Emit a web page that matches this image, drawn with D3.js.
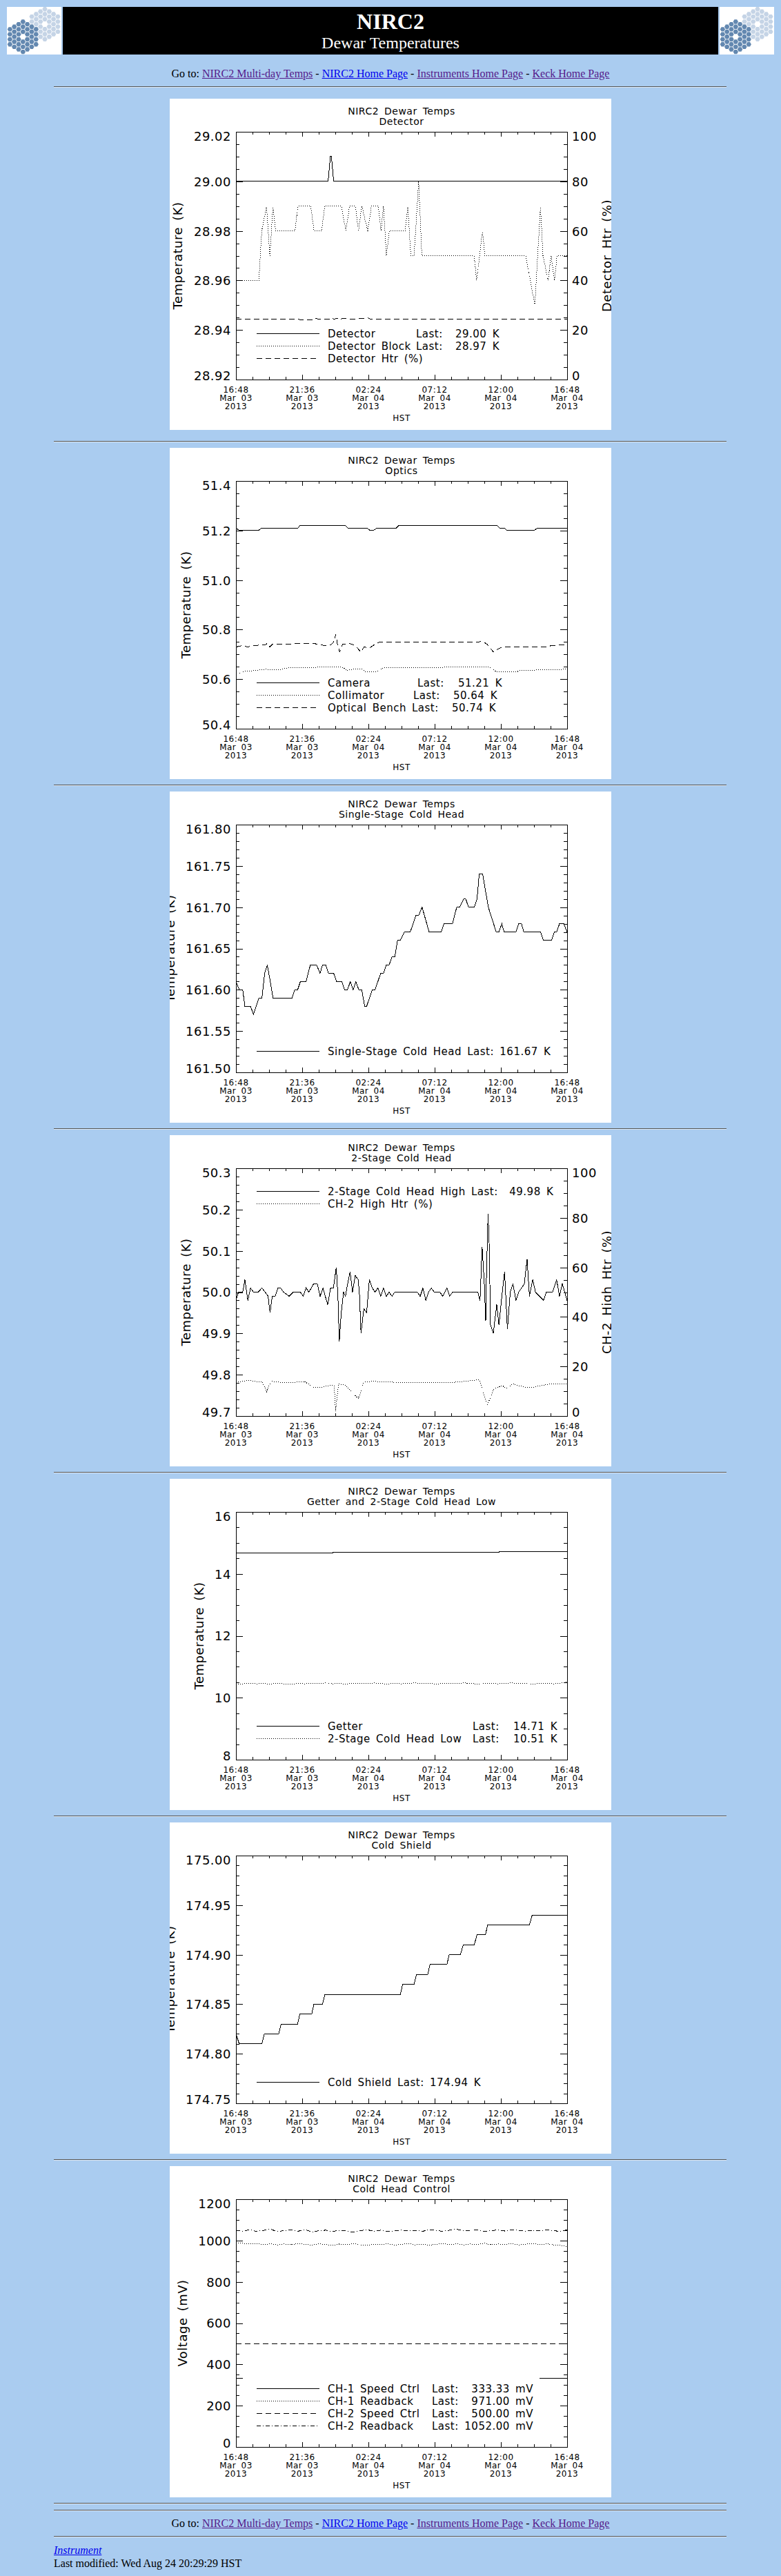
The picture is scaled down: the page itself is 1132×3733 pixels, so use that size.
<!DOCTYPE html>
<html>
<head>
<meta charset="utf-8">
<title>NIRC2 Dewar Temperatures</title>
<script src="https://cdn.jsdelivr.net/npm/d3@7"></script>
<style>
  body { margin: 0; background: #aaccf0; }
  #page { position: relative; width: 1132px; height: 3733px; overflow: hidden;
          font-family: "Liberation Serif", "Times New Roman", serif; font-size: 16px; }
  .panel, .rule, .line { position: absolute; }
  .panel { left: 246px; }
  .rule { left: 78px; width: 975px; height: 0; border-top: 1px solid #555; border-bottom: 1px solid #dde8f4; }
  .line { left: 0; width: 1132px; line-height: 18px; white-space: nowrap; }
  .center { text-align: center; }
  .foot { left: 78px; }
  a { color: #0000ee; }
  a.seen { color: #551a8b; }
  svg text { font-family: "DejaVu Sans", sans-serif; letter-spacing: 0.5px; word-spacing: 3px; white-space: pre; }
  svg text.hdr { font-family: "Liberation Serif", "Times New Roman", serif; letter-spacing: 0; word-spacing: 0; }
</style>
</head>
<body>
<div id="page">
  <svg id="header" width="1132" height="90" style="position:absolute;left:0;top:0"></svg>
  <div class="line center" style="top:98px">Go to: <a class="seen" href="#">NIRC2 Multi-day Temps</a> - <a href="#">NIRC2 Home Page</a> - <a class="seen" href="#">Instruments Home Page</a> - <a class="seen" href="#">Keck Home Page</a></div>
  <div class="line center" style="top:3648px">Go to: <a class="seen" href="#">NIRC2 Multi-day Temps</a> - <a href="#">NIRC2 Home Page</a> - <a class="seen" href="#">Instruments Home Page</a> - <a class="seen" href="#">Keck Home Page</a></div>
  <div class="line foot" style="top:3687px"><a href="#"><i>Instrument</i></a></div>
  <div class="line foot" style="top:3706px">Last modified: Wed Aug 24 20:29:29 HST</div>
</div>
<script>
// x axis: 24 hours starting 16:48 HST Mar 03 2013 (values are hours since start)
const xTickHours = [0, 4.8, 9.6, 14.4, 19.2, 24];
const xTickTimes = ["16:48", "21:36", "02:24", "07:12", "12:00", "16:48"];
const xTickDates = ["Mar 03", "Mar 03", "Mar 04", "Mar 04", "Mar 04", "Mar 04"];
const xTickYear = "2013";

// Detector
const detector = [[0,29.00],[6.68,29.00],[6.84,29.01],[6.92,29.01],[7.08,29.00],[24,29.00]];
const detectorBlock = [[0,28.96],[1.66,28.96],[1.87,28.98],[2.22,28.99],[2.46,28.97],[2.68,28.99],[2.87,28.98],
  [4.27,28.98],[4.50,28.99],[5.42,28.99],[5.66,28.98],[6.20,28.98],[6.44,28.99],[7.64,28.99],[7.97,28.98],
  [8.23,28.99],[8.66,28.99],[8.88,28.98],[9.12,28.99],[9.55,28.98],[9.82,28.99],[10.32,28.99],[10.51,28.98],
  [10.69,28.99],[10.90,28.97],[11.12,28.98],[12.26,28.98],[12.45,28.99],[12.67,28.97],[12.91,28.97],
  [13.24,29.00],[13.47,28.97],[17.26,28.97],[17.44,28.96],[17.87,28.98],[18.04,28.97],[21.00,28.97],
  [21.33,28.96],[21.66,28.95],[22.07,28.99],[22.25,28.97],[22.62,28.96],[22.84,28.97],[23.08,28.96],
  [23.27,28.97],[24,28.97]];
const detectorHtr = [[0,24.3],[2.30,24.3],[2.46,24.9],[2.62,24.3],[5.60,24.2],[5.80,24.8],[6.00,24.3],
  [6.80,24.3],[6.95,24.8],[7.10,24.3],[7.30,24.7],[7.50,24.3],[7.90,24.8],[8.10,24.3],[9.60,24.8],
  [9.80,24.3],[24,24.3]];

// Optics
const camera = [[0,51.21],[0.24,51.20],[1.63,51.20],[1.85,51.21],[4.50,51.21],[4.62,51.22],[7.94,51.22],
  [8.12,51.21],[9.49,51.21],[9.73,51.20],[9.95,51.20],[10.23,51.21],[11.62,51.21],[11.80,51.22],
  [18.92,51.22],[19.11,51.21],[19.44,51.21],[19.66,51.20],[21.61,51.20],[21.85,51.21],[24,51.21]];
const collimator = [[0,50.615],[0.43,50.63],[1.35,50.635],[2.18,50.64],[3.00,50.637],[3.75,50.645],
  [7.45,50.65],[7.82,50.645],[8.05,50.635],[8.47,50.64],[9.12,50.64],[9.40,50.63],[10.23,50.63],
  [10.60,50.645],[18.37,50.65],[18.74,50.635],[18.92,50.63],[20.40,50.63],[20.50,50.635],[24,50.64]];
const opticalBench = [[0,50.73],[0.42,50.735],[0.89,50.73],[1.17,50.735],[2.20,50.74],[2.25,50.745],
  [2.44,50.73],[2.63,50.74],[4.12,50.74],[4.31,50.745],[5.60,50.745],[5.97,50.74],[6.53,50.735],
  [6.90,50.74],[7.08,50.75],[7.23,50.78],[7.36,50.74],[7.51,50.71],[7.73,50.74],[8.20,50.745],
  [8.66,50.735],[9.04,50.71],[9.30,50.73],[9.67,50.725],[10.05,50.74],[10.42,50.75],[17.63,50.75],
  [17.82,50.755],[18.22,50.74],[18.65,50.71],[18.93,50.72],[19.30,50.73],[22.62,50.73],[22.80,50.735],
  [24,50.74]];

// Single-Stage Cold Head
const singleStage = [[0,161.61],[0.24,161.60],[0.49,161.60],[0.65,161.58],[1.06,161.58],[1.27,161.57],
  [1.67,161.59],[1.88,161.59],[2.08,161.62],[2.27,161.63],[2.49,161.61],[2.69,161.59],[4.06,161.59],
  [4.27,161.60],[4.47,161.60],[4.67,161.61],[5.08,161.61],[5.39,161.63],[5.84,161.63],[6.10,161.62],
  [6.27,161.63],[6.51,161.63],[6.71,161.62],[7.08,161.62],[7.29,161.61],[7.67,161.61],[7.88,161.60],
  [8.08,161.60],[8.29,161.61],[8.49,161.60],[8.69,161.61],[8.90,161.60],[9.12,161.60],[9.33,161.58],
  [9.47,161.58],[9.88,161.60],[10.08,161.60],[10.49,161.62],[10.69,161.62],[10.90,161.63],[11.10,161.63],
  [11.31,161.64],[11.51,161.64],[11.61,161.65],[11.71,161.66],[11.92,161.66],[12.22,161.67],[12.63,161.67],
  [12.84,161.68],[13.04,161.69],[13.24,161.69],[13.49,161.70],[14.00,161.67],[14.88,161.67],[15.08,161.68],
  [15.69,161.68],[16.00,161.70],[16.20,161.70],[16.51,161.71],[16.65,161.71],[16.86,161.70],[17.27,161.70],
  [17.47,161.71],[17.63,161.74],[17.88,161.74],[18.29,161.70],[18.86,161.67],[19.06,161.67],[19.27,161.68],
  [19.43,161.67],[20.29,161.67],[20.49,161.68],[20.69,161.68],[20.86,161.67],[22.08,161.67],[22.27,161.66],
  [22.88,161.66],[23.08,161.67],[23.24,161.67],[23.45,161.68],[23.76,161.68],[24,161.67]];

// 2-Stage Cold Head
const twoStageHigh = [[0,49.98],[0.18,50.00],[0.49,50.00],[0.65,50.03],[0.86,49.98],[1.06,50.01],[1.27,50.00],
  [1.61,50.00],[1.88,50.01],[2.12,50.00],[2.33,49.99],[2.47,49.95],[2.63,49.99],[2.84,49.99],[3.04,50.01],
  [3.24,50.01],[3.45,50.00],[3.86,49.99],[4.16,50.00],[4.67,50.00],[4.88,49.99],[5.08,50.01],[5.29,50.00],
  [5.63,50.02],[5.90,50.02],[6.10,49.99],[6.31,50.01],[6.47,49.99],[6.65,49.97],[6.86,50.01],[7.06,50.01],
  [7.27,50.06],[7.39,49.99],[7.49,49.88],[7.63,49.95],[7.80,50.00],[7.94,49.99],[8.04,50.01],[8.27,50.05],
  [8.45,50.00],[8.65,50.04],[8.86,50.03],[8.96,49.99],[9.06,49.90],[9.27,49.96],[9.47,49.95],[9.67,50.03],
  [9.88,50.01],[10.08,50.00],[10.29,50.01],[10.49,49.99],[10.69,50.01],[10.90,49.99],[11.10,50.00],
  [11.31,49.99],[11.51,50.00],[13.14,50.00],[13.35,49.99],[13.55,50.01],[13.76,49.98],[13.96,50.00],
  [14.16,50.01],[14.37,50.00],[14.78,50.00],[14.98,49.99],[15.29,50.01],[15.49,49.99],[15.69,50.00],
  [17.53,50.00],[17.69,49.98],[17.84,50.11],[18.00,50.02],[18.10,49.93],[18.14,50.02],[18.27,50.19],
  [18.35,50.12],[18.45,49.92],[18.65,49.90],[18.90,49.97],[19.06,49.92],[19.27,49.99],[19.47,50.05],
  [19.67,49.91],[19.88,50.00],[20.08,50.02],[20.29,49.98],[20.49,50.00],[20.69,50.01],[20.90,50.02],
  [21.10,50.08],[21.27,49.99],[21.51,50.03],[21.71,50.00],[22.29,49.98],[22.49,50.00],[22.94,50.00],
  [23.24,50.03],[23.45,49.99],[23.65,50.02],[24,49.98]];
const ch2HighHtr = [[0,13.5],[0.90,14.4],[1.92,13.6],[2.22,9.7],[2.53,14.0],[3.35,13.5],[4.16,13.6],
  [4.98,13.9],[5.59,11.6],[6.20,11.6],[6.92,12.5],[7.12,12.0],[7.22,1.9],[7.43,13.0],[7.94,12.5],
  [8.24,10.7],[8.86,7.0],[9.27,13.6],[9.88,14.0],[11.51,13.6],[13.55,13.5],[15.59,13.5],[17.63,14.6],
  [17.94,9.3],[18.24,4.6],[18.65,10.7],[19.27,12.3],[19.67,11.1],[20.08,13.0],[20.49,12.3],[20.90,11.6],
  [21.51,11.6],[22.33,12.5],[22.94,13.0],[24,13.0]];

// half-hour sampling times used by the noisier readings
const sampleHours = [0,0.5,1,1.5,2,2.5,3,3.5,4,4.5,5,5.5,6,6.5,7,7.5,8,8.5,9,9.5,10,10.5,11,11.5,
  12,12.5,13,13.5,14,14.5,15,15.5,16,16.5,17,17.5,18,18.5,19,19.5,20,20.5,21,21.5,22,22.5,23,23.5,24];

// Getter and 2-Stage Cold Head Low
const getter = [[0,14.68],[7.00,14.68],[7.10,14.70],[8.40,14.70],[8.50,14.69],[9.10,14.69],[9.20,14.70],
  [19.00,14.70],[19.10,14.71],[24,14.71]];
const twoStageLow = [10.44,10.45,10.46,10.45,10.46,10.44,10.47,10.45,10.43,10.46,10.45,10.47,10.46,10.48,
  10.45,10.46,10.44,10.47,10.46,10.45,10.48,10.46,10.44,10.47,10.45,10.46,10.48,10.45,10.47,10.44,10.46,
  10.47,10.45,10.48,10.46,10.44,10.46,10.47,10.45,10.46,10.48,10.45,10.46,10.44,10.47,10.46,10.45,10.47,10.51];

// Cold Shield
const coldShield = [[0,174.82],[0.24,174.81],[1.88,174.81],[2.06,174.82],[3.10,174.82],[3.27,174.83],
  [4.47,174.83],[4.63,174.84],[5.49,174.84],[5.65,174.85],[6.27,174.85],[6.45,174.86],[11.92,174.86],
  [12.08,174.87],[12.90,174.87],[13.08,174.88],[13.90,174.88],[14.06,174.89],[15.29,174.89],[15.45,174.90],
  [16.27,174.90],[16.47,174.91],[17.27,174.91],[17.47,174.92],[18.08,174.92],[18.24,174.93],[21.27,174.93],
  [21.47,174.94],[24,174.94]];

// Cold Head Control (mV); null marks a gap in the readings
const ch1Speed = [[0,333.33],[0.5,333.33],[1,null],[22,333.33],[24,333.33]];
const ch2Speed = [[0,500],[24,500]];
const ch1Readback = [990,986,983,985,981,984,979,983,980,986,982,978,984,981,977,983,980,985,979,976,982,
  980,984,978,981,985,979,983,977,982,986,980,984,978,983,981,987,979,983,980,985,978,982,986,980,984,979,976,971];
const ch2Readback = [1050,1046,1052,1044,1049,1055,1043,1048,1051,1045,1053,1042,1047,1050,1044,1049,1046,
  1041,1048,1052,1045,1050,1043,1047,1051,1046,1049,1044,1053,1048,1045,1050,1055,1046,1049,1052,1044,1048,
  1051,1046,1053,1049,1045,1050,1047,1052,1048,1044,1052];

const onSamples = vals => sampleHours.map((h, i) => [h, vals[i]]);

const charts = [
  { title: "Detector", yDomain: [28.92, 29.02], yStep: 0.02, yMinor: 0.005, yFormat: ".2f", yLabel: "Temperature (K)",
    right: { domain: [0, 100], step: 20, minor: 5, label: "Detector Htr (%)" },
    lastX: [357, 357], valEnd: [478, 478],
    series: [
      { name: "Detector", last: "29.00 K", style: "solid", data: detector },
      { name: "Detector Block", last: "28.97 K", style: "dotted", data: detectorBlock },
      { name: "Detector Htr (%)", last: null, style: "dashed", data: detectorHtr, axis: "right" } ] },
  { title: "Optics", yDomain: [50.4, 51.4], yStep: 0.2, yMinor: 0.05, yFormat: ".1f", yLabel: "Temperature (K)",
    lastX: [359, 353, 351], valEnd: [482, 475, 473],
    series: [
      { name: "Camera", last: "51.21 K", style: "solid", data: camera },
      { name: "Collimator", last: "50.64 K", style: "dotted", data: collimator },
      { name: "Optical Bench", last: "50.74 K", style: "dashed", data: opticalBench } ] },
  { title: "Single-Stage Cold Head", yDomain: [161.5, 161.8], yStep: 0.05, yMinor: 0.01, yFormat: ".2f", yLabel: "Temperature (K)",
    series: [ { name: "Single-Stage Cold Head", last: "161.67 K", sep: " Last: ", style: "solid", data: singleStage } ] },
  { title: "2-Stage Cold Head", yDomain: [49.7, 50.3], yStep: 0.1, yMinor: 0.02, yFormat: ".1f", yLabel: "Temperature (K)",
    right: { domain: [0, 100], step: 20, minor: 5, label: "CH-2 High Htr (%)" }, legendTop: true,
    series: [
      { name: "2-Stage Cold Head High", last: "49.98 K", sep: " Last:  ", style: "solid", data: twoStageHigh },
      { name: "CH-2 High Htr (%)", last: null, style: "dotted", data: ch2HighHtr, axis: "right" } ] },
  { title: "Getter and 2-Stage Cold Head Low", yDomain: [8, 16], yStep: 2, yMinor: 0.5, yFormat: "d", yLabel: "Temperature (K)",
    lastX: [439, 439], valEnd: [562, 562],
    series: [
      { name: "Getter", last: "14.71 K", style: "solid", data: getter },
      { name: "2-Stage Cold Head Low", last: "10.51 K", style: "dotted", data: onSamples(twoStageLow) } ] },
  { title: "Cold Shield", yDomain: [174.75, 175.0], yStep: 0.05, yMinor: 0.01, yFormat: ".2f", yLabel: "Temperature (K)",
    series: [ { name: "Cold Shield", last: "174.94 K", sep: " Last: ", style: "solid", data: coldShield } ] },
  { title: "Cold Head Control", yDomain: [0, 1200], yStep: 200, yMinor: 50, yFormat: "d", yLabel: "Voltage (mV)",
    lastX: [380, 380, 380, 380], valEnd: [527, 527, 527, 527],
    series: [
      { name: "CH-1 Speed Ctrl", last: "333.33 mV", style: "solid", data: ch1Speed },
      { name: "CH-1 Readback", last: "971.00 mV", style: "dotted", data: onSamples(ch1Readback) },
      { name: "CH-2 Speed Ctrl", last: "500.00 mV", style: "dashed", data: ch2Speed },
      { name: "CH-2 Readback", last: "1052.00 mV", style: "dashdot", data: onSamples(ch2Readback) } ] }
];

// page layout
const chartTops = [143, 649, 1147, 1645, 2143, 2641, 3139];
const ruleTops = [125, 639, 1137, 1635, 2133, 2631, 3129, 3627, 3637, 3675];
const W = 640, H = 480;
const X0 = 96, X1 = 576, Y0 = 48, Y1 = 407;
const dashes = { solid: null, dotted: "1,2", dashed: "8,5", dashdot: "6,3,1,3" };

const page = d3.select("#page");

ruleTops.forEach(t => page.append("div").attr("class", "rule").style("top", t + "px"));

// header banner with the two mirror logos
const header = d3.select("#header");

function drawLogo(svg, ox, oy) {
  const g = svg.append("g").attr("transform", `translate(${ox},${oy})`);
  g.append("rect").attr("width", 79).attr("height", 69).attr("fill", "#fff");
  const R = 4.2;
  const cells = [];
  for (let q = -3; q <= 3; q++) {
    for (let r = -3; r <= 3; r++) {
      const s = -q - r;
      if (Math.max(Math.abs(q), Math.abs(r), Math.abs(s)) <= 3 && !(q === 0 && r === 0)) cells.push([q, r]);
    }
  }
  const hex = d3.range(6).map(i => [3.7 * Math.cos(i * Math.PI / 3), 3.7 * Math.sin(i * Math.PI / 3)]);
  [[55, 25, "#c5d4e6"], [23.3, 43.3, "#6388b0"]].forEach(([cx, cy, col]) => {
    cells.forEach(([q, r]) => {
      const hx = cx + 1.5 * R * q, hy = cy + Math.sqrt(3) * R * (r + q / 2);
      g.append("path")
        .attr("d", "M" + hex.map(p => [hx + p[0], hy + p[1]]).join("L") + "Z")
        .attr("fill", col);
    });
  });
}

drawLogo(header, 10, 10);
drawLogo(header, 1043, 10);
header.append("rect").attr("x", 91).attr("y", 10).attr("width", 950).attr("height", 69).attr("fill", "#000");
header.append("text").attr("class", "hdr")
  .attr("x", 566).attr("y", 42).attr("text-anchor", "middle")
  .attr("fill", "#fff").attr("font-size", 32).attr("font-weight", "bold")
  .text("NIRC2");
header.append("text").attr("class", "hdr")
  .attr("x", 566).attr("y", 70).attr("text-anchor", "middle")
  .attr("fill", "#fff").attr("font-size", 24)
  .text("Dewar Temperatures");

function ticksBy([lo, hi], step) {
  const n = Math.round((hi - lo) / step);
  return d3.range(n + 1).map(i => +(lo + i * step).toFixed(6));
}

// sets IDL-like label placement: top label hangs below its tick, bottom label sits on it
function placeLabels(g, vals, size) {
  g.attr("font-size", size);
  g.select(".domain").remove();
  g.selectAll(".tick text").attr("dy", d =>
    d === vals[0] ? "0em" : d === vals[vals.length - 1] ? "0.72em" : "0.36em");
}

function drawChart(c, idx) {
  const svg = page.append("svg")
    .attr("class", "panel")
    .style("top", chartTops[idx] + "px")
    .attr("width", W)
    .attr("height", H);

  svg.append("rect").attr("width", W).attr("height", H).attr("fill", "#fff");

  const x = d3.scaleLinear().domain([0, 24]).range([X0, X1]);
  const y = d3.scaleLinear().domain(c.yDomain).range([Y1, Y0]);
  const yr = c.right ? d3.scaleLinear().domain(c.right.domain).range([Y1, Y0]) : null;

  // Titles
  svg.append("text").attr("x", (X0 + X1) / 2).attr("y", 23)
    .attr("text-anchor", "middle").attr("font-size", 14).text("NIRC2 Dewar Temps");
  svg.append("text").attr("x", (X0 + X1) / 2).attr("y", 38)
    .attr("text-anchor", "middle").attr("font-size", 14).text(c.title);

  const axes = svg.append("g").attr("shape-rendering", "crispEdges");

  // Left axis, major and minor ticks pointing inward
  const yMajor = ticksBy(c.yDomain, c.yStep);
  const left = axes.append("g")
    .attr("transform", `translate(${X0},0)`)
    .call(d3.axisLeft(y).tickValues(yMajor).tickFormat(d3.format(c.yFormat))
      .tickSizeInner(-9.6).tickSizeOuter(0).tickPadding(7));
  placeLabels(left, yMajor, 18);
  axes.append("g")
    .attr("transform", `translate(${X0},0)`)
    .call(d3.axisLeft(y).tickValues(ticksBy(c.yDomain, c.yMinor)).tickFormat("")
      .tickSizeInner(-4.8).tickSizeOuter(0))
    .call(g => g.select(".domain").remove());

  // Right axis: own scale if there is one, otherwise a mirror of the left ticks
  let right = null;
  if (c.right) {
    const rMajor = ticksBy(c.right.domain, c.right.step);
    right = axes.append("g")
      .attr("transform", `translate(${X1},0)`)
      .call(d3.axisRight(yr).tickValues(rMajor).tickFormat(d3.format("d"))
        .tickSizeInner(-9.6).tickSizeOuter(0).tickPadding(7));
    placeLabels(right, rMajor, 18);
    axes.append("g")
      .attr("transform", `translate(${X1},0)`)
      .call(d3.axisRight(yr).tickValues(ticksBy(c.right.domain, c.right.minor)).tickFormat("")
        .tickSizeInner(-4.8).tickSizeOuter(0))
      .call(g => g.select(".domain").remove());
  } else {
    [[c.yStep, 9.6], [c.yMinor, 4.8]].forEach(([step, len]) => {
      axes.append("g")
        .attr("transform", `translate(${X1},0)`)
        .call(d3.axisRight(y).tickValues(ticksBy(c.yDomain, step)).tickFormat("")
          .tickSizeInner(-len).tickSizeOuter(0))
        .call(g => g.select(".domain").remove());
    });
  }

  // Top and bottom time axes
  const xMinor = ticksBy([0, 24], 1.2);
  [[xTickHours, 7.2], [xMinor, 3.6]].forEach(([vals, len]) => {
    axes.append("g")
      .attr("transform", `translate(0,${Y1})`)
      .call(d3.axisBottom(x).tickValues(vals).tickFormat("").tickSizeInner(-len).tickSizeOuter(0))
      .call(g => g.select(".domain").remove());
    axes.append("g")
      .attr("transform", `translate(0,${Y0})`)
      .call(d3.axisTop(x).tickValues(vals).tickFormat("").tickSizeInner(-len).tickSizeOuter(0))
      .call(g => g.select(".domain").remove());
  });

  // Plot frame
  axes.append("rect")
    .attr("x", X0 + 0.5).attr("y", Y0 + 0.5)
    .attr("width", X1 - X0).attr("height", Y1 - Y0)
    .attr("fill", "none").attr("stroke", "#000");

  // Three-line time labels
  const xl = svg.append("g").attr("font-size", 12).attr("text-anchor", "middle");
  xTickHours.forEach((h, i) => {
    const t = xl.append("text");
    t.append("tspan").attr("x", x(h)).attr("y", 426).text(xTickTimes[i]);
    t.append("tspan").attr("x", x(h)).attr("y", 438).text(xTickDates[i]);
    t.append("tspan").attr("x", x(h)).attr("y", 450).text(xTickYear);
  });
  xl.append("text").attr("x", (X0 + X1) / 2).attr("y", 466.5).text("HST");

  // Axis titles, placed just outside the widest tick label
  const maxW = d3.max(left.selectAll(".tick text").nodes(), n => n.getComputedTextLength());
  svg.append("text")
    .attr("transform", `translate(${X0 - 7 - maxW - 23},${(Y0 + Y1) / 2}) rotate(-90)`)
    .attr("dy", "0.36em").attr("text-anchor", "middle").attr("font-size", 18)
    .text(c.yLabel);
  if (right) {
    const maxR = d3.max(right.selectAll(".tick text").nodes(), n => n.getComputedTextLength());
    svg.append("text")
      .attr("transform", `translate(${X1 + 7 + maxR + 15},${(Y0 + Y1) / 2}) rotate(-90)`)
      .attr("dy", "0.36em").attr("text-anchor", "middle").attr("font-size", 18)
      .text(c.right.label);
  }

  // Data lines, clipped to the plot, drawn without smoothing like the original plots
  const clipId = "clip" + idx;
  svg.append("clipPath").attr("id", clipId)
    .append("rect").attr("x", X0).attr("y", Y0).attr("width", X1 - X0).attr("height", Y1 - Y0);
  const plot = svg.append("g")
    .attr("clip-path", `url(#${clipId})`)
    .attr("shape-rendering", "crispEdges");
  c.series.forEach(s => {
    const ys = s.axis === "right" ? yr : y;
    plot.append("path")
      .datum(s.data)
      .attr("fill", "none")
      .attr("stroke", "#000")
      .attr("stroke-width", 1)
      .attr("stroke-dasharray", dashes[s.style])
      .attr("d", d3.line().defined(d => d[1] !== null).x(d => x(d[0])).y(d => ys(d[1])));
  });

  // Legend
  const n = c.series.length;
  const leg = svg.append("g").attr("font-size", 15);
  c.series.forEach((s, i) => {
    const yc = c.legendTop ? 81 + 18 * i : 376 - 18 * (n - 1 - i);
    leg.append("line")
      .attr("x1", 126).attr("x2", 217).attr("y1", yc + 0.5).attr("y2", yc + 0.5)
      .attr("shape-rendering", "crispEdges")
      .attr("stroke", "#000").attr("stroke-dasharray", dashes[s.style]);
    if (s.last && c.lastX) {
      leg.append("text").attr("x", 229).attr("y", yc + 5.5).text(s.name);
      leg.append("text").attr("x", c.lastX[i]).attr("y", yc + 5.5).text("Last:");
      leg.append("text").attr("x", c.valEnd[i]).attr("y", yc + 5.5).attr("text-anchor", "end").text(s.last);
    } else {
      leg.append("text").attr("x", 229).attr("y", yc + 5.5)
        .text(s.last ? s.name + s.sep + s.last : s.name);
    }
  });
}

charts.forEach(drawChart);
</script>
</body>
</html>
